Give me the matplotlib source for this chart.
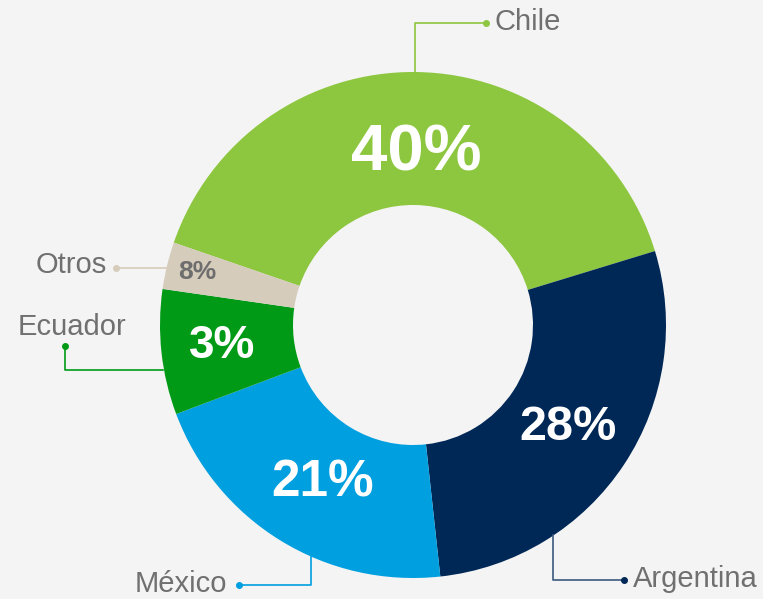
import matplotlib
matplotlib.use("Agg")
import matplotlib.pyplot as plt
import numpy as np

categories = ["Chile", "Argentina", "México", "Ecuador", "Otros"]
values = [40, 28, 21, 8, 3]
pct_labels = ["40%", "28%", "21%", "3%", "8%"]
colors = ["#8DC63F", "#002856", "#009FE0", "#009A16", "#D6CCBB"]

plt.rcParams['font.family'] = ['Liberation Sans', 'DejaVu Sans']

W, H = 763, 599
fig = plt.figure(figsize=(W / 100, H / 100), dpi=100, facecolor="#F4F4F4")
ax = fig.add_axes([0, 0, 1, 1])
ax.set_facecolor("#F4F4F4")

cx, cy = 413, H - 325
R, r_in = 253, 120
wedges, _ = ax.pie(values, colors=colors, startangle=161, counterclock=False,
                   radius=R, center=(cx, cy),
                   wedgeprops=dict(width=R - r_in, edgecolor="none"), frame=True)
ax.set_xlim(0, W)
ax.set_ylim(0, H)
ax.set_aspect("equal")
ax.axis("off")

label_r = [0.69, 0.735, 0.72, 0.76, 0.89]
offsets = [(0, -3), (0, 0), (5, -3), (0, 0), (3, 0)]
sizes = [47, 35, 37, 33, 19]
tcolors = ["white", "white", "white", "white", "#6E6E6E"]
for w, lab, lr, (dx, dy), s, tc in zip(wedges, pct_labels, label_r, offsets, sizes, tcolors):
    ang = np.deg2rad((w.theta1 + w.theta2) / 2)
    ax.text(cx + R * lr * np.cos(ang) + dx, cy + R * lr * np.sin(ang) + dy, lab,
            ha="center", va="center", fontsize=s, fontweight="bold", color=tc)

def Y(y):
    return H - y

gray = "#707070"
fs = 21
# Chile
ax.plot([415, 415, 486], [Y(72), Y(23), Y(23)], color=colors[0], lw=1.2)
ax.plot(486, Y(23), "o", color=colors[0], ms=4)
ax.text(494, Y(22), categories[0], ha="left", va="center", fontsize=fs, color=gray)
# Argentina
ax.plot([553, 553, 624], [Y(535), Y(580), Y(580)], color="#3D5A80", lw=1.2)
ax.plot(624, Y(580), "o", color=colors[1], ms=4)
ax.text(633, Y(579), categories[1], ha="left", va="center", fontsize=fs, color=gray)
# México
ax.plot([311, 311, 239], [Y(555), Y(585), Y(585)], color=colors[2], lw=1.2)
ax.plot(239, Y(585), "o", color=colors[2], ms=4)
ax.text(227, Y(584), categories[2], ha="right", va="center", fontsize=fs, color=gray)
# Ecuador
ax.plot([65, 65, 163], [Y(346), Y(370), Y(370)], color=colors[3], lw=1.2)
ax.plot(65, Y(346), "o", color=colors[3], ms=4)
ax.text(18, Y(327), categories[3], ha="left", va="center", fontsize=fs, color=gray)
# Otros
ax.plot([116, 166], [Y(268), Y(268)], color=colors[4], lw=1.2)
ax.plot(116, Y(268), "o", color=colors[4], ms=4)
ax.text(107, Y(265), categories[4], ha="right", va="center", fontsize=fs, color=gray)

fig.savefig("out.png", dpi=100, facecolor=fig.get_facecolor())
